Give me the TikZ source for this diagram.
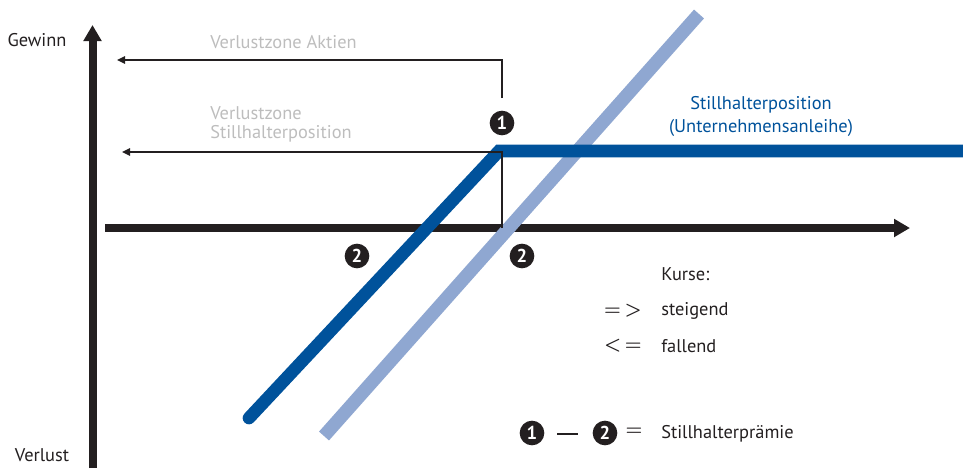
\documentclass[tikz,border=0pt]{standalone}
\usepackage{fontspec}
\setmainfont{PT Sans}
\usetikzlibrary{arrows.meta}
\definecolor{darkblue}{HTML}{00529B}
\definecolor{lightblue}{HTML}{8FA7D1}
\definecolor{graytxt}{HTML}{BDBDBD}
\definecolor{axisblack}{HTML}{231F20}
\begin{document}
\begin{tikzpicture}[x=0.75pt,y=-0.75pt,
  txt/.style={font=\fontsize{13.8}{16}\selectfont, inner sep=0pt, text=axisblack},
  symb/.style={txt, font=\fontsize{13.8}{16}\selectfont\boldmath},
  graylbl/.style={txt, text=graytxt},
  bluelbl/.style={txt, text=darkblue, align=center},
  axisline/.style={draw=axisblack, line width=6pt, -{Triangle[length=12pt,width=13pt]}},
  thinarrow/.style={draw=axisblack, line width=1.1pt, -{Triangle[length=6pt,width=5.5pt]}},
  numdot/.style={circle, fill=axisblack, minimum size=18.5pt, inner sep=0pt, text=white, font=\fontsize{14}{14}\selectfont\bfseries},
  darkline/.style={draw=darkblue, line width=9.5pt},
  lightline/.style={draw=lightblue, line width=10pt}]
\useasboundingbox (0,0) rectangle (963,468);

% axes
\coordinate (ybot) at (92.5,468);
\coordinate (ytop) at (92.5,25);
\coordinate (xleft) at (105,228);
\coordinate (xright) at (910,228);
\draw[axisline] (ybot) -- (ytop);
\draw[axisline] (xleft) -- (xright);

% light blue line
\coordinate (lb1) at (324,436);
\coordinate (lb2) at (699,14);
\draw[lightline, line cap=butt] (lb1) -- (lb2);

% dark blue line
\coordinate (db1) at (249,418);
\coordinate (db2) at (499,151);
\coordinate (db3) at (963,151);
\draw[darkline, line cap=round, line join=miter] (db1) -- (db2) -- (db3);
\fill[white] (963,140) rectangle (970,165);

% thin arrows
\coordinate (k1) at (502,98);
\coordinate (tip1) at (117,60);
\draw[thinarrow] (k1) |- (tip1);
\coordinate (k2) at (502,228);
\coordinate (tip2) at (122,152);
\draw[thinarrow] (k2) |- (tip2);

% numbered dots
\node[numdot] (n1) at (502,123) {1};
\node[numdot] (n2a) at (357,256) {2};
\node[numdot] (n2b) at (522,256) {2};

% axis labels
\node[txt] (gew) at (37,40) {Gewinn};
\node[txt] (ver) at (42,455) {Verlust};

% gray labels
\node[graylbl, anchor=west] (vza) at (210,42) {Verlustzone Aktien};
\node[graylbl, anchor=west] (vzs1) at (210,113) {Verlustzone};
\node[graylbl, anchor=west] (vzs2) at (210,134) {Stillhalterposition};

% blue label
\node[bluelbl] (shp) at (761,105) {Stillhalterposition};
\node[bluelbl] (shp2) at (761,128) {(Unternehmensanleihe)};

% legend
\node[txt, anchor=west] (kurse) at (661,274) {Kurse:};
\node[symb, anchor=east] (gt) at (642,311) {$=\,>$};
\node[txt, anchor=west] (st) at (661,311) {steigend};
\node[symb, anchor=east] (lt) at (642,346) {$<\,=$};
\node[txt, anchor=west] (fa) at (661,346) {fallend};

\node[numdot] (l1) at (532,433) {1};
\node[numdot] (l2) at (605,433) {2};
\coordinate (d1) at (557,434);
\coordinate (d2) at (578,434);
\draw[draw=axisblack, line width=1.3pt] (d1) -- (d2);
\node[symb] (eq) at (634,432) {$=$};
\node[txt, anchor=west] (prem) at (661,434) {Stillhalterprämie};
\end{tikzpicture}
\end{document}
